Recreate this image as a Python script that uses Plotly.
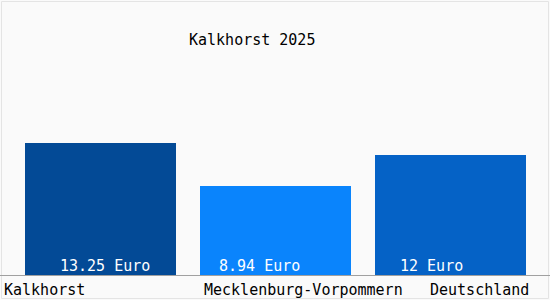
import plotly.graph_objects as go

categories = ["Kalkhorst", "Mecklenburg-Vorpommern", "Deutschland"]
values = [13.25, 8.94, 12]
value_labels = ["13.25 Euro", "8.94 Euro", "12 Euro"]
title_text = "Kalkhorst 2025"

colors = ["#034a96", "#0a84fc", "#0562c6"]
FONT = "DejaVu Sans Mono"
W, H = 550, 300
PX_PER_CAT = 175.0
x0_px = 100.5
BOTTOM_PX = 275
xs = list(range(len(categories)))

fig = go.Figure()
fig.add_trace(go.Bar(
    x=xs, y=values, width=151 / PX_PER_CAT,
    marker=dict(color=colors, line=dict(width=0)),
    hoverinfo="skip",
))

# label offsets (in category units, relative to bar index) for left-aligned texts
val_offsets = [-0.242, -0.334, -0.300]
cat_offsets = [-0.563, -0.420, -0.128]

def px_to_x(p):
    return (p - x0_px) / PX_PER_CAT

def py_to_paper(p):
    return (BOTTOM_PX - p) / BOTTOM_PX

annotations = []
for i, (lab, off) in enumerate(zip(value_labels, val_offsets)):
    annotations.append(dict(
        x=i + off, y=0, xref="x", yref="y", text=lab, showarrow=False,
        xanchor="left", yanchor="bottom", yshift=-2,
        font=dict(family=FONT, size=15, color="white"),
    ))
for i, (lab, off) in enumerate(zip(categories, cat_offsets)):
    annotations.append(dict(
        x=i + off, y=0, xref="x", yref="y", text=lab, showarrow=False,
        xanchor="left", yanchor="top", yshift=-4,
        font=dict(family=FONT, size=15, color="black"),
    ))
annotations.append(dict(
    x=252 / W, y=py_to_paper(40), xref="paper", yref="paper", text=title_text,
    showarrow=False, xanchor="center", yanchor="middle",
    font=dict(family=FONT, size=15, color="black"),
))

y_top = BOTTOM_PX / 10.0

fig.update_layout(
    width=W, height=H,
    margin=dict(l=0, r=0, t=0, b=H - BOTTOM_PX),
    paper_bgcolor="#fafafa", plot_bgcolor="#fafafa",
    showlegend=False,
    bargap=0,
    annotations=annotations,
    xaxis=dict(range=[px_to_x(0), px_to_x(W)], showticklabels=False, showgrid=False,
               zeroline=False, showline=True, linecolor="#a0a0a0", linewidth=1, ticks=""),
    yaxis=dict(range=[0, y_top], showticklabels=False, showgrid=False, zeroline=False,
               showline=False, ticks=""),
    shapes=[dict(type="rect", xref="paper", yref="paper",
                 x0=1.5 / W, x1=548.5 / W, y0=py_to_paper(298.5), y1=py_to_paper(1.5),
                 line=dict(color="#e4e4e4", width=1), fillcolor="rgba(0,0,0,0)", layer="below")],
)

fig.write_html("out.html", config={"displayModeBar": False})
